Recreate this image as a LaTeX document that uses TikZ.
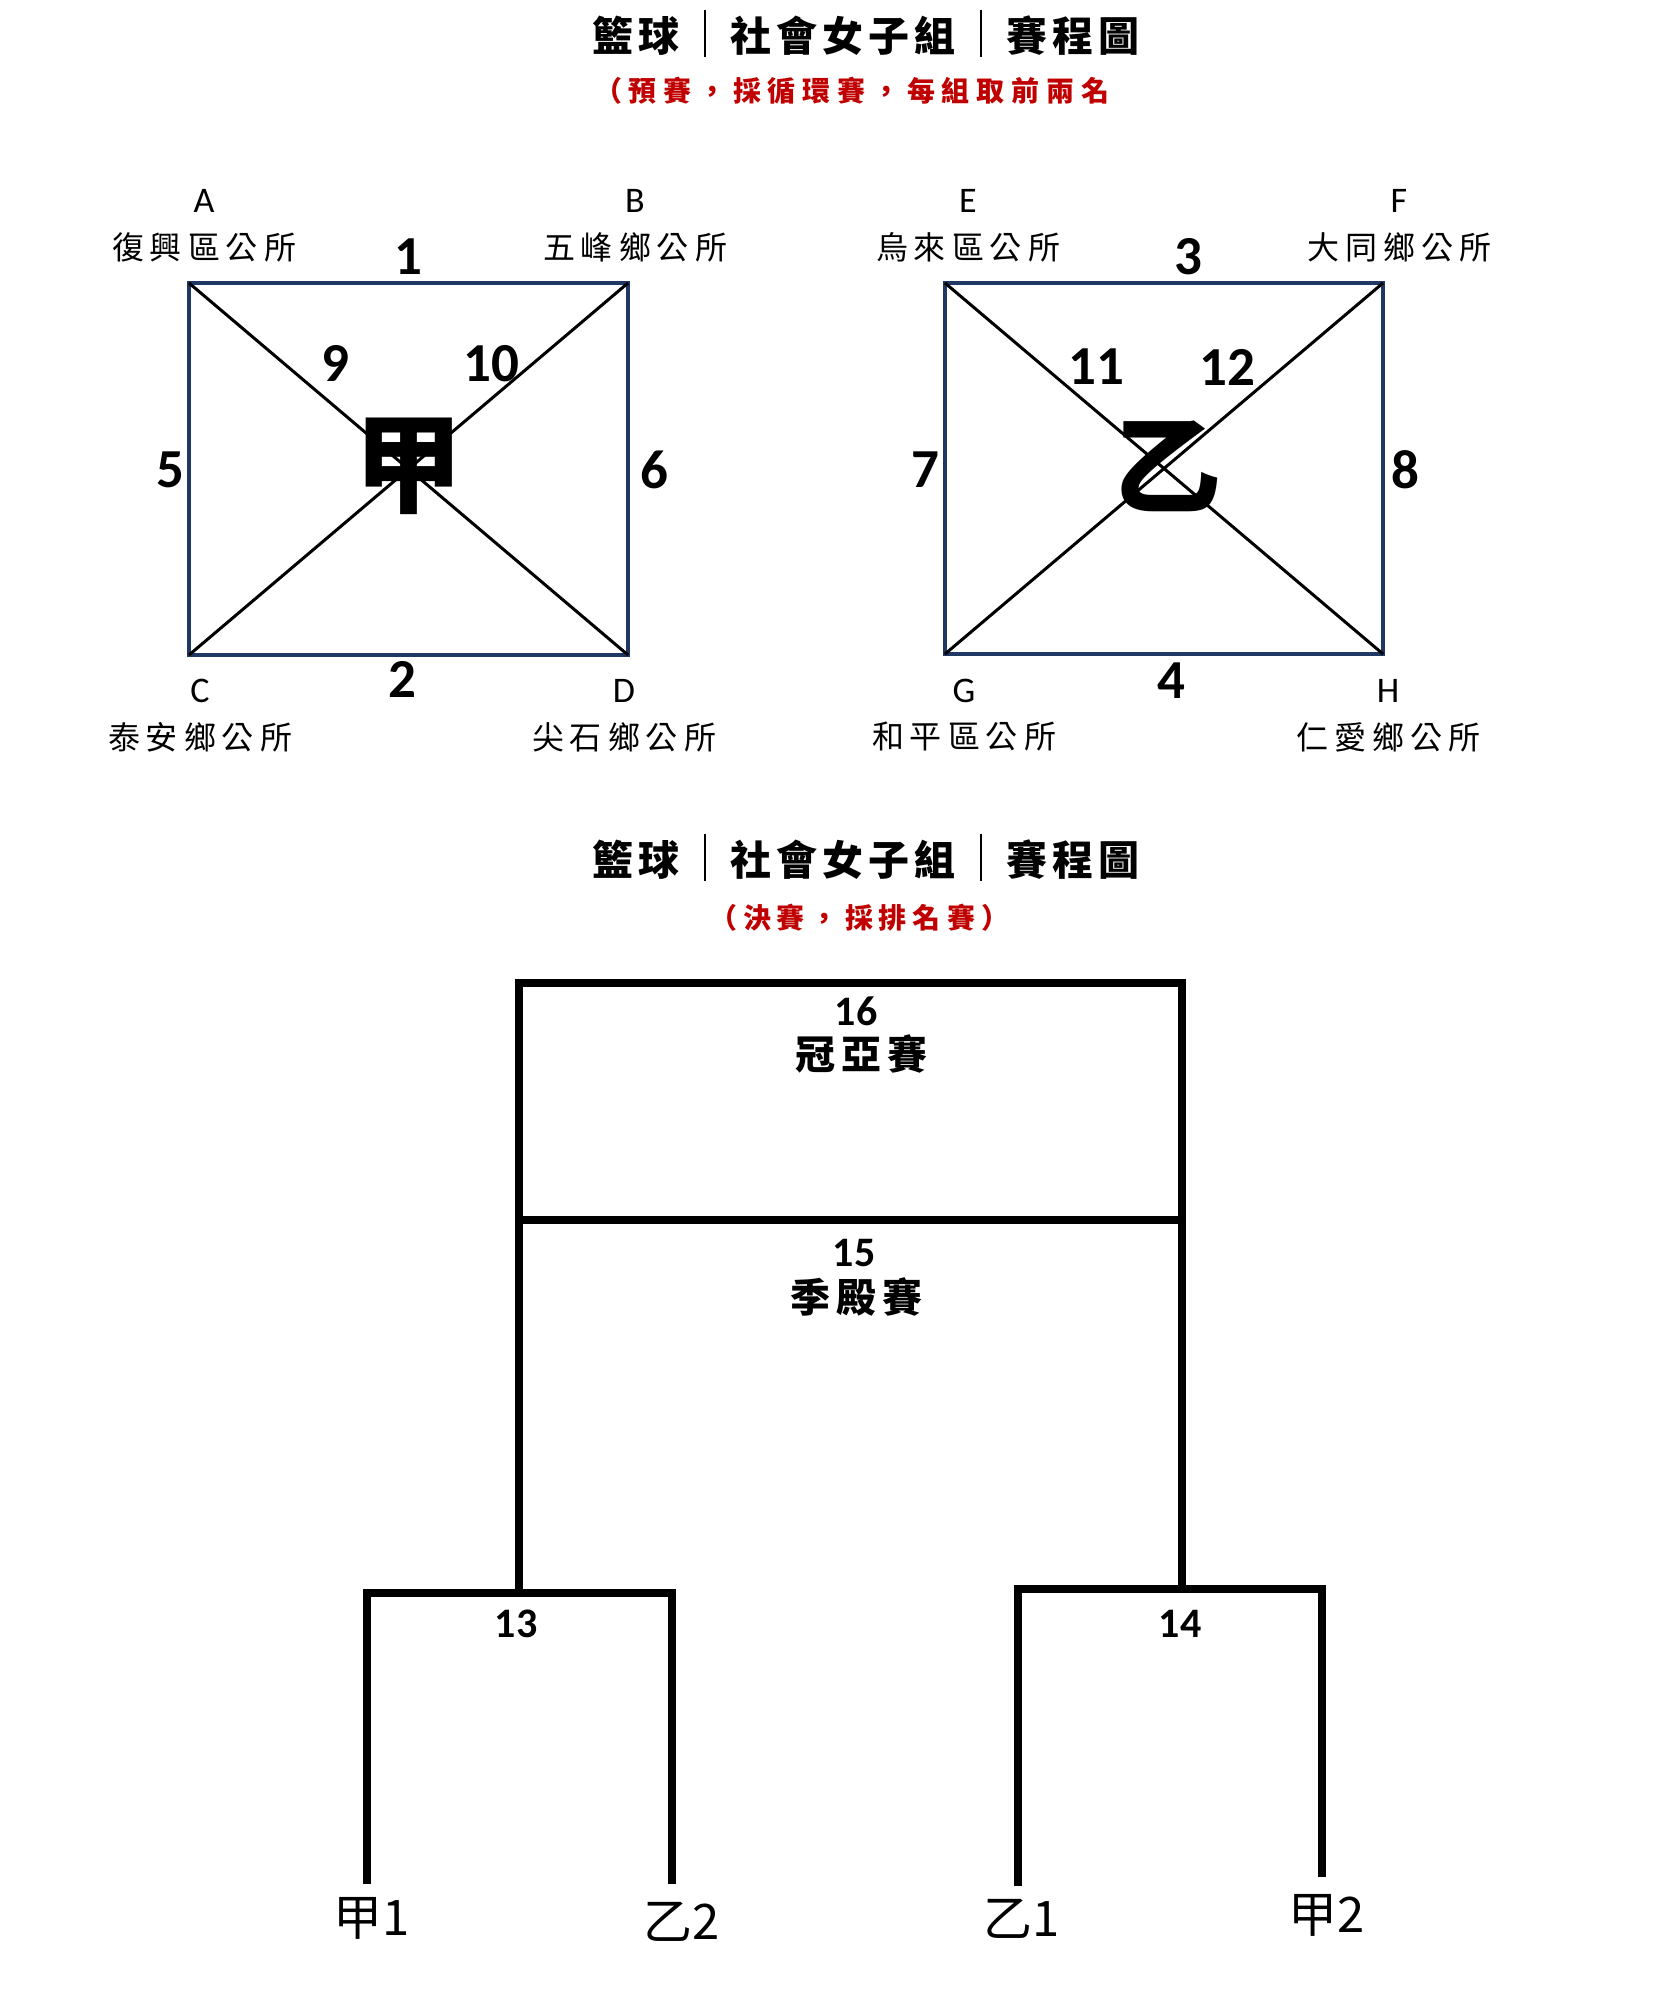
\documentclass[tikz,border=0pt]{standalone}
\usepackage{fontspec}
\setmainfont{Carlito}
\newfontfamily\cjk{Noto Sans CJK TC}
\definecolor{navy}{HTML}{1F3864}
\definecolor{dred}{HTML}{C00000}
\newdimen\spgap
\def\spc#1#2{\spgap=#1\relax\spcfirst#2\spcend}
\def\spcfirst#1{#1\spcrest}
\def\spcrest#1{\ifx#1\spcend\else\kern\spgap#1\expandafter\spcrest\fi}
\def\spcend{}
\def\vbar{\hbox to 41pt{\hss\smash{\rule[-5.5pt]{2.6pt}{47pt}}\hss}}
\tikzset{
  boxline/.style={draw=navy, line width=3.3pt},
  diagline/.style={draw=black, line width=3pt},
  brk/.style={draw=black, line width=7.5pt, line join=miter},
  txt/.style={inner sep=0pt, outer sep=0pt},
  bignum/.style={txt, font=\fontsize{55}{60}\selectfont\bfseries},
  letter/.style={txt, font=\fontsize{36}{40}\selectfont},
  place/.style={txt, font=\fontsize{32}{36}\selectfont\cjk},
  title/.style={txt, font=\fontsize{41}{46}\selectfont\cjk\bfseries},
  subtitle/.style={txt, text=dred, font=\fontsize{28}{32}\selectfont\cjk\bfseries},
  group/.style={txt, font=\fontsize{108}{115}\selectfont\cjk\bfseries},
  gnum/.style={txt, font=\fontsize{42}{46}\selectfont\bfseries},
  gname/.style={txt, font=\fontsize{40}{44}\selectfont\cjk\bfseries},
  seed/.style={txt, font=\fontsize{49}{54}\selectfont\cjk},
}
\begin{document}
\begin{tikzpicture}[x=1pt,y=-1pt]
\useasboundingbox (0,0) rectangle (1654,1989);
% titles
\node[title] (title1) at (866,36) {\spc{5pt}{籃球\vbar 社會女子組\vbar 賽程圖}};
\begin{scope}
\clip (0,60) rectangle (1108,130);
\node[subtitle, anchor=west] (sub1) at (594,91) {\spc{6.8pt}{（預賽，採循環賽，每組取前兩名}};
\end{scope}
% group A box
\coordinate (A) at (189,283);
\coordinate (B) at (628,283);
\coordinate (C) at (189,655);
\coordinate (D) at (628,655);
\draw[boxline] (A) rectangle (D);
\draw[diagline] (A) -- (D);
\draw[diagline] (B) -- (C);
\node[group] (ga) at (408,466) {甲};
% group B box
\coordinate (E) at (945,283);
\coordinate (F) at (1383,283);
\coordinate (G) at (945,654);
\coordinate (H) at (1383,654);
\draw[boxline] (E) rectangle (H);
\draw[diagline] (E) -- (H);
\draw[diagline] (F) -- (G);
\node[group] (gb) at (1167,466) {乙};
% corner letters and names
\node[letter] (lA) at (204,201) {A};
\node[place] (pA) at (204,247) {\spc{6pt}{復興區公所}};
\node[letter] (lB) at (635,201) {B};
\node[place] (pB) at (635,247) {\spc{6pt}{五峰鄉公所}};
\node[letter] (lC) at (200,691) {C};
\node[place] (pC) at (200,737) {\spc{6pt}{泰安鄉公所}};
\node[letter] (lD) at (624,691) {D};
\node[place] (pD) at (624,737) {\spc{6pt}{尖石鄉公所}};
\node[letter] (lE) at (968,201) {E};
\node[place] (pE) at (968,247) {\spc{6pt}{烏來區公所}};
\node[letter] (lF) at (1399,201) {F};
\node[place] (pF) at (1399,247) {\spc{6pt}{大同鄉公所}};
\node[letter] (lG) at (964,691) {G};
\node[place] (pG) at (964,737) {\spc{6pt}{和平區公所}};
\node[letter] (lH) at (1388,691) {H};
\node[place] (pH) at (1388,737) {\spc{6pt}{仁愛鄉公所}};
% match numbers
\node[bignum] (n1) at (408,257) {1};
\node[bignum] (n2) at (402,679) {2};
\node[bignum] (n5) at (170,470) {5};
\node[bignum] (n6) at (654,470) {6};
\node[bignum] (n9) at (335,363) {9};
\node[bignum] (n10) at (491,364) {10};
\node[bignum] (n3) at (1188,257) {3};
\node[bignum] (n4) at (1171,681) {4};
\node[bignum] (n7) at (925,470) {7};
\node[bignum] (n8) at (1405,470) {8};
\node[bignum] (n11) at (1096,367) {11};
\node[bignum] (n12) at (1227,367) {12};
% second title
\node[title] (title2) at (866,860) {\spc{5pt}{籃球\vbar 社會女子組\vbar 賽程圖}};
\node[subtitle] (sub2) at (859,918) {\spc{6pt}{（決賽，採排名賽）}};
% bracket
\coordinate (T1) at (519,983);
\coordinate (T2) at (1182,983);
\coordinate (M1) at (519,1220);
\coordinate (M2) at (1182,1220);
\coordinate (L) at (519,1593);
\coordinate (R) at (1182,1589);
\coordinate (a1) at (367,1593);
\coordinate (a2) at (672,1593);
\coordinate (a1b) at (367,1884);
\coordinate (a2b) at (672,1884);
\coordinate (b1) at (1018,1589);
\coordinate (b2) at (1322,1589);
\coordinate (b1b) at (1018,1886);
\coordinate (b2b) at (1322,1877);
\draw[brk] (L) -- (T1) -- (T2) -- (R);
\draw[brk] (M1) -- (M2);
\draw[brk] (a1b) -- (a1) -- (a2) -- (a2b);
\draw[brk] (b1b) -- (b1) -- (b2) -- (b2b);
\node[gnum] (n16) at (856,1011) {16};
\node[gname] (g16) at (861,1054) {\spc{6pt}{冠亞賽}};
\node[gnum] (n15) at (854,1253) {15};
\node[gname] (g15) at (856,1297) {\spc{6pt}{季殿賽}};
\node[gnum] (n13) at (516,1624) {13};
\node[gnum] (n14) at (1180,1624) {14};
\node[seed] (s1) at (372,1918) {甲1};
\node[seed] (s2) at (682,1922) {乙2};
\node[seed] (s3) at (1022,1919) {乙1};
\node[seed] (s4) at (1327,1915) {甲2};
\end{tikzpicture}
\end{document}
